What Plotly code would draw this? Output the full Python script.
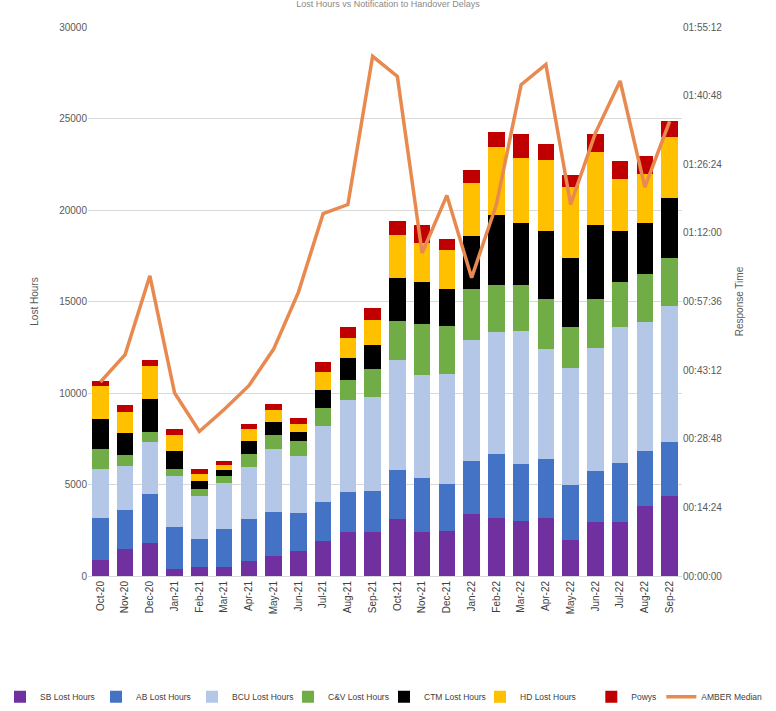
import plotly.graph_objects as go

months = ["Oct-20", "Nov-20", "Dec-20", "Jan-21", "Feb-21", "Mar-21", "Apr-21", "May-21",
          "Jun-21", "Jul-21", "Aug-21", "Sep-21", "Oct-21", "Nov-21", "Dec-21", "Jan-22",
          "Feb-22", "Mar-22", "Apr-22", "May-22", "Jun-22", "Jul-22", "Aug-22", "Sep-22"]

sb_lost = [860, 1500, 1820, 400, 500, 500, 820, 1100, 1370, 1920, 2380, 2380,
           3110, 2420, 2450, 3380, 3150, 3010, 3150, 1960, 2970, 2970, 3800, 4350]
ab_lost = [2300, 2110, 2660, 2260, 1540, 2050, 2290, 2420, 2050, 2110, 2200, 2290,
           2700, 2950, 2590, 2910, 3510, 3130, 3230, 3040, 2770, 3230, 3050, 2960]
bcu_lost = [2660, 2390, 2840, 2790, 2310, 2530, 2840, 3440, 3120, 4180, 5040, 5130,
            6000, 5620, 6010, 6610, 6680, 7250, 6040, 6370, 6730, 7430, 7010, 7470]
cv_lost = [1100, 590, 550, 400, 400, 370, 740, 770, 820, 950, 1090, 1520,
           2110, 2780, 2620, 2760, 2580, 2500, 2730, 2260, 2680, 2440, 2670, 2580]
ctm_lost = [1650, 1210, 1800, 980, 420, 330, 670, 690, 520, 1000, 1190, 1280,
            2380, 2270, 2030, 2900, 3800, 3410, 3720, 3770, 4020, 2800, 2770, 3290]
hd_lost = [1830, 1170, 1800, 890, 430, 260, 700, 650, 450, 980, 1100, 1410,
           2340, 2160, 2090, 2900, 3730, 3560, 3840, 3840, 4000, 2830, 2670, 3320]
powys = [280, 370, 310, 300, 220, 270, 270, 310, 310, 530, 590, 610,
         770, 990, 640, 700, 830, 1290, 870, 700, 980, 980, 960, 900]

amber_median = ["00:40:42", "00:46:28", "01:02:59", "00:38:24", "00:30:20", "00:34:57",
                "00:39:56", "00:47:37", "00:59:31", "01:16:02", "01:17:57", "01:49:03",
                "01:44:50", "01:07:47", "01:19:52", "01:02:36", "01:17:57", "01:43:06",
                "01:47:20", "01:17:57", "01:32:56", "01:43:52", "01:21:36", "01:35:25"]

left_ticks = [0, 5000, 10000, 15000, 20000, 25000, 30000]
right_ticks = ["00:00:00", "00:14:24", "00:28:48", "00:43:12", "00:57:36",
               "01:12:00", "01:26:24", "01:40:48", "01:55:12"]


def to_sec(s):
    h, m, x = s.split(":")
    return int(h) * 3600 + int(m) * 60 + int(x)


series = [
    ("SB Lost Hours", sb_lost, "#7030A0", "legend"),
    ("AB Lost Hours", ab_lost, "#4472C4", "legend"),
    ("BCU Lost Hours", bcu_lost, "#B4C7E7", "legend"),
    ("C&V Lost Hours", cv_lost, "#70AD47", "legend"),
    ("CTM Lost Hours", ctm_lost, "#000000", "legend"),
    ("HD Lost Hours", hd_lost, "#FFC000", "legend"),
    ("Powys", powys, "#C00000", "legend2"),
]

FONT = "Liberation Sans, Arial, sans-serif"
GREY = "#595959"

fig = go.Figure()
for name, vals, col, lg in series:
    fig.add_trace(go.Bar(x=months, y=vals, name=name, legend=lg,
                         marker=dict(color=col, line=dict(width=0))))

fig.add_trace(go.Scatter(x=months, y=[to_sec(t) for t in amber_median], name="AMBER Median",
                         mode="lines", yaxis="y2", legend="legend2",
                         line=dict(color="#E8894F", width=3.5)))

tick_secs = [to_sec(t) for t in right_ticks]

legend_common = dict(orientation="h", xref="container", xanchor="left",
                     yref="container", y=0.02, yanchor="middle",
                     font=dict(size=8.5, color="#404040"), traceorder="normal",
                     itemwidth=30, tracegroupgap=0)

fig.update_layout(
    width=776, height=711,
    barmode="stack", bargap=0.33,
    paper_bgcolor="white", plot_bgcolor="white",
    margin=dict(l=88, r=94, t=27, b=135),
    font=dict(family=FONT, color=GREY, size=10),
    title=dict(text="Lost Hours vs Notification to Handover Delays", x=0.5, xanchor="center",
               y=0.999, yanchor="top", font=dict(size=9, color="#8a8a8a")),
    xaxis=dict(tickangle=-90, tickfont=dict(size=10, color="#404040"), showgrid=False,
               linecolor="#D9D9D9", showline=True, ticks=""),
    yaxis=dict(range=[0, 30000], tickvals=left_ticks, tickformat="d",
               gridcolor="#D9D9D9", zeroline=False, showline=False,
               title=dict(text="Lost Hours", font=dict(size=10, color=GREY), standoff=18),
               tickfont=dict(size=10, color=GREY), ticks="", ticklen=0),
    yaxis2=dict(overlaying="y", side="right", range=[0, 6912], tickvals=tick_secs,
                ticktext=right_ticks, showgrid=False, zeroline=False,
                title=dict(text="Response Time", font=dict(size=10, color=GREY), standoff=14),
                tickfont=dict(size=10, color=GREY)),
    legend=dict(**legend_common, x=0.0, entrywidth=51, entrywidthmode="pixels"),
    legend2=dict(**legend_common, x=0.762),
    showlegend=True,
)

fig.write_html("out.html")
